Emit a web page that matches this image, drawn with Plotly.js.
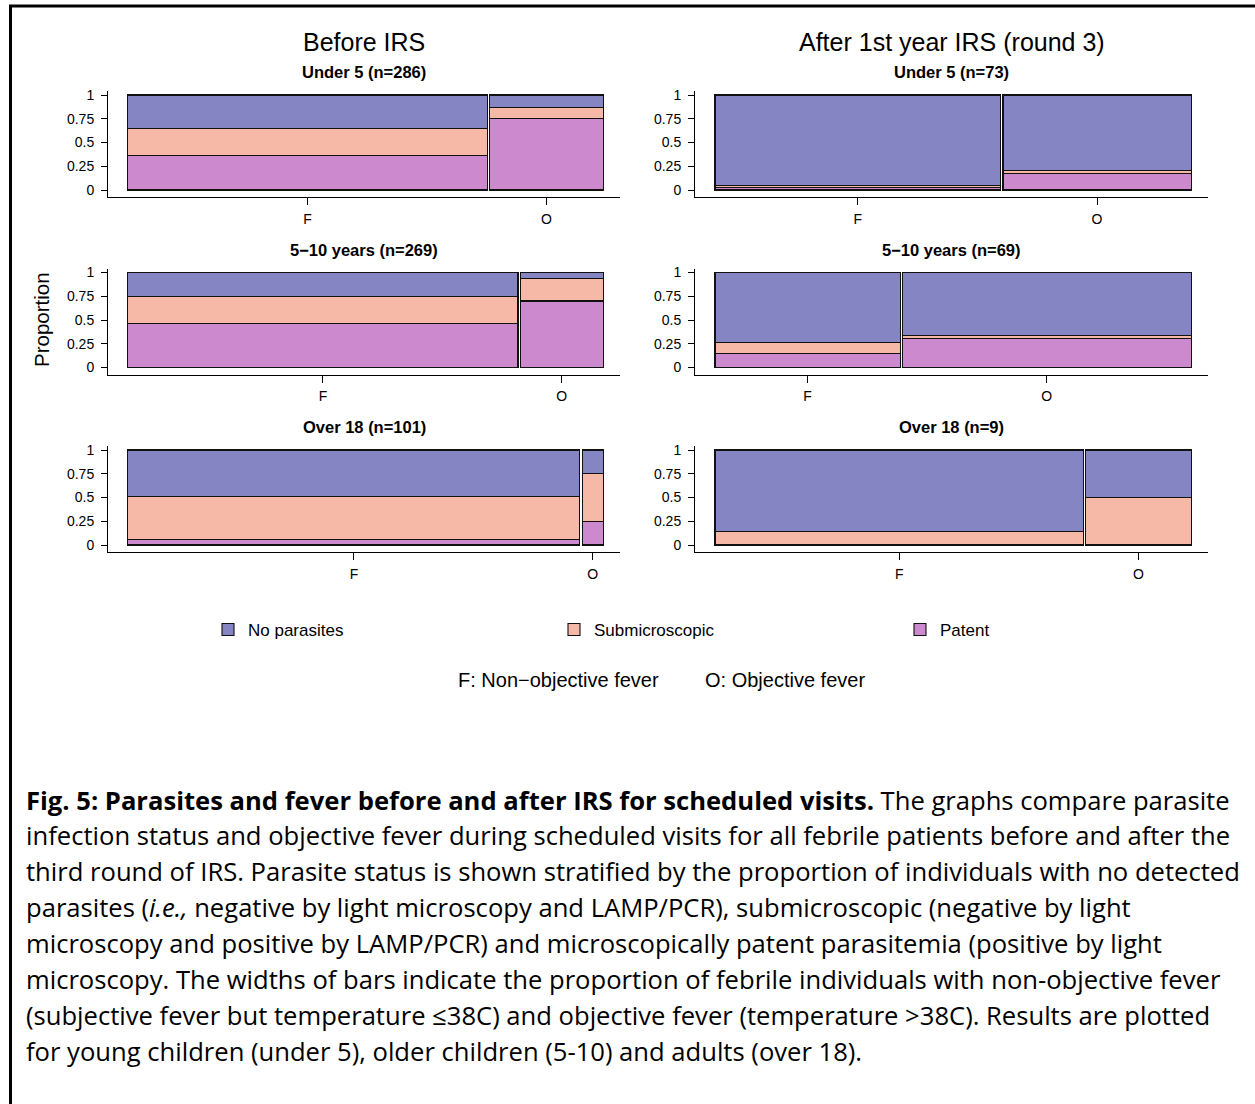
<!DOCTYPE html>
<html>
<head>
<meta charset="utf-8">
<script src="https://cdn.plot.ly/plotly-3.0.1.min.js"></script>
<style>html,body{margin:0;padding:0;background:#fff;}#chart{width:1255px;height:1104px;}</style>
</head>
<body>
<div id="chart"></div>
<script>
// ---- DATA ----
const columnTitles = ["Before IRS", "After 1st year IRS (round 3)"];
const panelTitles = ["Under 5 (n=286)", "Under 5 (n=73)", "5\u221210 years (n=269)", "5\u221210 years (n=69)", "Over 18 (n=101)", "Over 18 (n=9)"];
const feverTicks = ["F", "O"];
const categories = ["Patent", "Submicroscopic", "No parasites"];
// share of each panel's febrile individuals with non-objective fever (bar width of F)
const nonObjectiveShare = [0.76, 0.603, 0.825, 0.391, 0.956, 0.778];
// proportions within F (non-objective fever) bars
const patentF = [0.365, 0.023, 0.46, 0.148, 0.06, 0.0];
const submicroF = [0.28, 0.022, 0.29, 0.111, 0.455, 0.143];
const noneF = [0.355, 0.955, 0.25, 0.741, 0.485, 0.857];
// proportions within O (objective fever) bars
const patentO = [0.75, 0.172, 0.70, 0.31, 0.25, 0.0];
const submicroO = [0.12, 0.035, 0.235, 0.023, 0.50, 0.50];
const noneO = [0.13, 0.793, 0.065, 0.667, 0.25, 0.50];
const yTickVals = [0, 0.25, 0.5, 0.75, 1];
const yTickText = ["0", "0.25", "0.5", "0.75", "1"];
const captionLines = [
  "<b>Fig. 5: Parasites and fever before and after IRS for scheduled visits.</b> The graphs compare parasite",
  "infection status and objective fever during scheduled visits for all febrile patients before and after the",
  "third round of IRS. Parasite status is shown stratified by the proportion of individuals with no detected",
  "parasites (<i>i.e.,</i> negative by light microscopy and LAMP/PCR), submicroscopic (negative by light",
  "microscopy and positive by LAMP/PCR) and microscopically patent parasitemia (positive by light",
  "microscopy. The widths of bars indicate the proportion of febrile individuals with non-objective fever",
  "(subjective fever but temperature \u226438C) and objective fever (temperature >38C). Results are plotted",
  "for young children (under 5), older children (5-10) and adults (over 18)."
];

// ---- STYLE / LAYOUT ----
const W = 1255, H = 1104;
const px = x => x / W;
const py = y => 1 - y / H;
const colors = {"Patent": "#CD89CD", "Submicroscopic": "#F6B9A8", "No parasites": "#8585C4"};
const seriesF = {"Patent": patentF, "Submicroscopic": submicroF, "No parasites": noneF};
const seriesO = {"Patent": patentO, "Submicroscopic": submicroO, "No parasites": noneO};
const gap = 0.005;
const colPx = [[108, 620], [695, 1208]];
const rowTop = [95, 272.5, 450];
const unit = 95;
const font = "Liberation Sans, Arial, Helvetica, sans-serif";

const traces = [];
const layout = {
  width: W, height: H,
  margin: {l: 0, r: 0, t: 0, b: 0, pad: 0, autoexpand: false},
  paper_bgcolor: "#fff", plot_bgcolor: "rgba(0,0,0,0)",
  barmode: "stack",
  showlegend: true,
  font: {family: font, color: "#000"},
  legend: {
    orientation: "h", x: px(208), y: py(630), xanchor: "left", yanchor: "middle",
    entrywidth: 301, entrywidthmode: "pixels", traceorder: "reversed",
    font: {size: 17, family: font, color: "#000"}, bgcolor: "rgba(0,0,0,0)"
  },
  annotations: [],
  shapes: [
    {type: "line", xref: "paper", yref: "paper", x0: px(9), x1: px(1260), y0: py(6), y1: py(6), line: {color: "#000", width: 3}},
    {type: "line", xref: "paper", yref: "paper", x0: px(10.5), x1: px(10.5), y0: py(5), y1: py(1110), line: {color: "#000", width: 3}}
  ]
};

for (let i = 0; i < panelTitles.length; i++) {
  const col = i % 2, row = Math.floor(i / 2);
  const id = i === 0 ? "" : String(i + 1);
  const wF = nonObjectiveShare[i], wO = 1 - wF;
  const centers = [wF / 2, wF + gap + wO / 2];
  categories.forEach(cat => {
    traces.push({
      type: "bar",
      name: cat,
      legendgroup: cat,
      showlegend: i === 0,
      x: centers,
      y: [seriesF[cat][i], seriesO[cat][i]],
      width: [wF, wO],
      xaxis: "x" + id, yaxis: "y" + id,
      marker: {color: colors[cat], line: {color: "#111", width: 1.1}},
      hoverinfo: "name+y"
    });
  });
  const T = rowTop[row];
  const [x0, x1] = colPx[col];
  layout["xaxis" + id] = {
    domain: [px(x0), px(x1)],
    anchor: "y" + id,
    range: [-20 / 475, 1 + gap + 17 / 475],
    showline: true, linecolor: "#000", linewidth: 1,
    ticks: "outside", ticklen: 7, tickcolor: "#000", tickwidth: 1,
    tickvals: centers, ticktext: feverTicks,
    tickfont: {size: 14, family: font, color: "#000"},
    ticklabelstandoff: 2,
    showgrid: false, zeroline: false, fixedrange: true, automargin: false
  };
  layout["yaxis" + id] = {
    domain: [py(T + 102), py(T - 4)],
    anchor: "x" + id,
    range: [-7 / unit, 1 + 4 / unit],
    showline: true, linecolor: "#000", linewidth: 1,
    ticks: "outside", ticklen: 6, tickcolor: "#000", tickwidth: 1,
    tickvals: yTickVals, ticktext: yTickText,
    tickfont: {size: 14, family: font, color: "#000"},
    ticklabelstandoff: 4,
    showgrid: false, zeroline: false, fixedrange: true, automargin: false
  };
  layout.annotations.push({
    text: "<b>" + panelTitles[i] + "</b>", xref: "paper", yref: "paper",
    x: px((x0 + x1) / 2), y: py(T - 23), xanchor: "center", yanchor: "middle",
    showarrow: false, font: {size: 16.5, family: font, color: "#000"}
  });
}

columnTitles.forEach((t, c) => {
  layout.annotations.push({
    text: t, xref: "paper", yref: "paper",
    x: px((colPx[c][0] + colPx[c][1]) / 2), y: py(42), xanchor: "center", yanchor: "middle",
    showarrow: false, font: {size: 25, family: font, color: "#000"}
  });
});

layout.annotations.push({
  text: "Proportion", xref: "paper", yref: "paper", x: px(42), y: py(320),
  xanchor: "center", yanchor: "middle", textangle: -90, showarrow: false,
  font: {size: 20.5, family: font, color: "#000"}
});
layout.annotations.push({
  text: "F: Non\u2212objective fever", xref: "paper", yref: "paper", x: px(456), y: py(680),
  xanchor: "left", yanchor: "middle", showarrow: false, font: {size: 20, family: font, color: "#000"}
});
layout.annotations.push({
  text: "O: Objective fever", xref: "paper", yref: "paper", x: px(703), y: py(680),
  xanchor: "left", yanchor: "middle", showarrow: false, font: {size: 20, family: font, color: "#000"}
});

captionLines.forEach((line, k) => {
  layout.annotations.push({
    text: line, xref: "paper", yref: "paper", x: px(24), y: py(800 + k * 35.9),
    xanchor: "left", yanchor: "middle", align: "left", showarrow: false,
    font: {size: 25.6, family: "'Open Sans', Lato, sans-serif", color: "#000"}
  });
});

Plotly.newPlot("chart", traces, layout, {displayModeBar: false, staticPlot: true});
</script>
</body>
</html>
